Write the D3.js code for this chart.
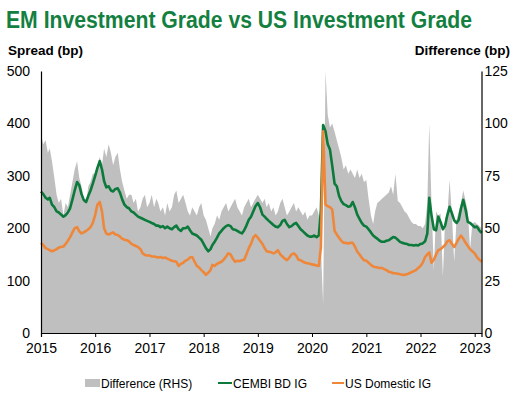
<!DOCTYPE html>
<html>
<head>
<meta charset="utf-8">
<script src="https://cdn.jsdelivr.net/npm/d3@7"></script>
<style>
	body { margin: 0; background: #fff; }
	svg { display: block; font-family: "Liberation Sans", Arial, sans-serif; }
</style>
</head>
<body>
<svg id="chart" width="528" height="395"></svg>
<script>
	//semi-monthly readings (1st and 16th), Jan 2015 - Feb 2023
var cembi = [
	270,265,258,255,258,245,240,232,230,226,222,225,230,238,255,272,288,282,265,254,250,262,272,285,
	300,315,328,312,290,278,280,272,270,275,276,268,255,245,240,238,232,230,226,222,220,218,216,214,
	212,210,208,205,205,202,204,200,203,200,198,202,205,198,195,200,200,203,196,190,188,186,182,178,
	170,162,156,160,168,174,182,190,195,200,204,206,204,198,197,195,192,190,196,205,216,222,232,242,
	248,240,226,222,218,214,210,206,203,202,206,214,216,208,202,204,208,210,204,198,194,190,186,184,
	184,186,183,186,235,397,385,360,350,320,285,280,262,252,246,244,241,242,250,240,226,218,210,205,
	203,198,192,186,183,180,176,174,174,176,177,180,183,182,178,174,172,171,170,168,168,167,168,167,
	170,171,175,190,258,225,198,196,222,212,198,205,225,241,228,215,210,216,238,254,235,212,210,206,
	202,203,196,191
];

var usIG = [
	172,168,162,160,158,156,158,160,163,164,165,170,176,183,192,200,202,194,190,192,195,198,202,210,
	225,245,250,232,200,190,188,190,192,188,187,184,180,178,177,175,170,168,166,164,160,152,149,148,
	148,146,146,145,144,145,143,144,142,140,138,137,136,128,132,134,138,140,144,145,136,128,125,120,
	116,111,115,120,130,128,132,134,136,140,146,152,150,142,136,138,137,139,140,150,162,170,182,187,
	182,176,170,162,156,155,154,152,154,158,150,146,142,139,144,150,152,148,140,139,136,134,133,132,
	131,130,129,128,164,385,245,242,240,236,195,188,182,176,172,172,171,172,172,165,155,150,144,139,
	138,134,130,127,126,125,124,124,122,120,117,116,114,114,113,112,111,111,112,114,116,118,120,124,
	128,134,145,150,154,134,140,150,158,160,164,168,175,177,170,164,172,180,186,180,172,166,160,156,
	152,145,140,136
];

	//difference (rhs)
var difference = [
	95,90,92,86,88,82,74,66,62,64,56,62,60,66,72,78,82,74,70,64,62,70,72,76,
	76,80,84,80,88,84,90,86,80,84,86,78,72,68,64,66,66,62,64,58,60,64,66,60,
	62,66,60,64,62,58,60,56,62,58,60,66,68,62,64,66,62,58,56,60,58,56,60,62,
	56,54,50,46,50,52,56,54,58,60,62,58,60,62,64,60,58,56,60,62,64,60,62,64,
	66,64,62,64,60,62,58,60,56,58,62,64,60,56,58,60,62,58,60,58,56,58,54,56,
	56,58,60,56,40,14,125,104,98,100,96,92,88,84,78,80,76,78,76,74,78,74,76,72,
	73,64,56,52,58,62,63,64,65,66,67,70,66,76,63,62,60,58,57,55,53,52,52,51,
	51,50,52,62,100,62,30,58,56,57,27,55,56,73,56,34,54,58,62,68,63,58,40,52,
	53,52,51,50
];

var leftTicks = [0, 100, 200, 300, 400, 500];
var rightTicks = [0, 25, 50, 75, 100, 125];
var yearTicks = [2015, 2016, 2017, 2018, 2019, 2020, 2021, 2022, 2023];

var seriesNames = ['Difference (RHS)', 'CEMBI BD IG', 'US Domestic IG'];
var seriesColors = ['#bfbfbf', '#0b7a3b', '#ef873a'];

	//dates: 1st and 16th of every month
var dates = [];
for (var i = 0; i < cembi.length; i++) {
	dates.push(new Date(2015, Math.floor(i / 2), i % 2 == 0 ? 1 : 16));
}

var svg = d3.select('#chart');
var plotLeft = 41, plotRight = 481.5, plotTop = 71, plotBottom = 333;

var x = d3.scaleTime().domain(d3.extent(dates)).range([plotLeft, plotRight]);
var yL = d3.scaleLinear().domain([0, 500]).range([plotBottom, plotTop]);
var yR = d3.scaleLinear().domain([0, 125]).range([plotBottom, plotTop]).clamp(true);

	//title and axis titles
svg.append('text')
	.attr('x', 6).attr('y', 28)
	.attr('textLength', 466).attr('lengthAdjust', 'spacingAndGlyphs')
	.style('font-family', '"Liberation Sans Narrow", "Arial Narrow", "Liberation Sans", sans-serif')
	.style('font-size', '23.5px').style('font-weight', 'bold')
	.attr('fill', '#13803f')
	.text('EM Investment Grade vs US Investment Grade');

svg.append('text').attr('x', 8).attr('y', 55)
	.style('font-size', '13.5px').style('font-weight', 'bold')
	.text('Spread (bp)');

svg.append('text').attr('x', 510).attr('y', 55).attr('text-anchor', 'end')
	.style('font-size', '13.5px').style('font-weight', 'bold')
	.text('Difference (bp)');

	//grey difference area
var area = d3.area()
	.x(function(d, i) { return x(dates[i]); })
	.y0(plotBottom)
	.y1(function(d) { return yR(d); });

svg.append('path').datum(difference)
	.attr('d', area)
	.attr('fill', seriesColors[0]);

	//spread lines
function drawLine(values, color) {
	var line = d3.line()
		.x(function(d, i) { return x(dates[i]); })
		.y(function(d) { return yL(d); });

	svg.append('path').datum(values)
		.attr('d', line)
		.attr('fill', 'none')
		.attr('stroke', color)
		.attr('stroke-width', 2.6)
		.attr('stroke-linejoin', 'round');
}
drawLine(cembi, seriesColors[1]);
drawLine(usIG, seriesColors[2]);

	//axes
var leftAxis = d3.axisLeft(yL).tickValues(leftTicks).tickSize(0).tickPadding(11);
var rightAxis = d3.axisRight(yR).tickValues(rightTicks).tickSize(0).tickPadding(3);
var bottomAxis = d3.axisBottom(x)
	.tickValues(yearTicks.map(function(y) { return new Date(y, 0, 1); }))
	.tickFormat(d3.timeFormat('%Y'))
	.tickSize(4).tickPadding(6);

svg.append('g').attr('transform', 'translate(' + plotLeft + ',0)').call(leftAxis);
svg.append('g').attr('transform', 'translate(' + plotRight + ',0)').call(rightAxis);
svg.append('g').attr('transform', 'translate(0,' + plotBottom + ')').call(bottomAxis);

svg.selectAll('.tick text').style('font-size', '14px').attr('fill', '#000');
svg.selectAll('.domain').attr('stroke', '#000').attr('stroke-width', 1.2);
svg.selectAll('.tick line').attr('stroke', '#000');

	//legend
var legend = svg.append('g').style('font-size', '12px');
legend.append('rect').attr('x', 85).attr('y', 379).attr('width', 15).attr('height', 8).attr('fill', seriesColors[0]);
legend.append('text').attr('x', 101).attr('y', 387.5).text(seriesNames[0]);
legend.append('line').attr('x1', 218).attr('x2', 232).attr('y1', 383).attr('y2', 383)
	.attr('stroke', seriesColors[1]).attr('stroke-width', 2);
legend.append('text').attr('x', 233).attr('y', 387.5).text(seriesNames[1]);
legend.append('line').attr('x1', 332).attr('x2', 344).attr('y1', 383).attr('y2', 383)
	.attr('stroke', seriesColors[2]).attr('stroke-width', 2);
legend.append('text').attr('x', 345).attr('y', 387.5).text(seriesNames[2]);
</script>
</body>
</html>
